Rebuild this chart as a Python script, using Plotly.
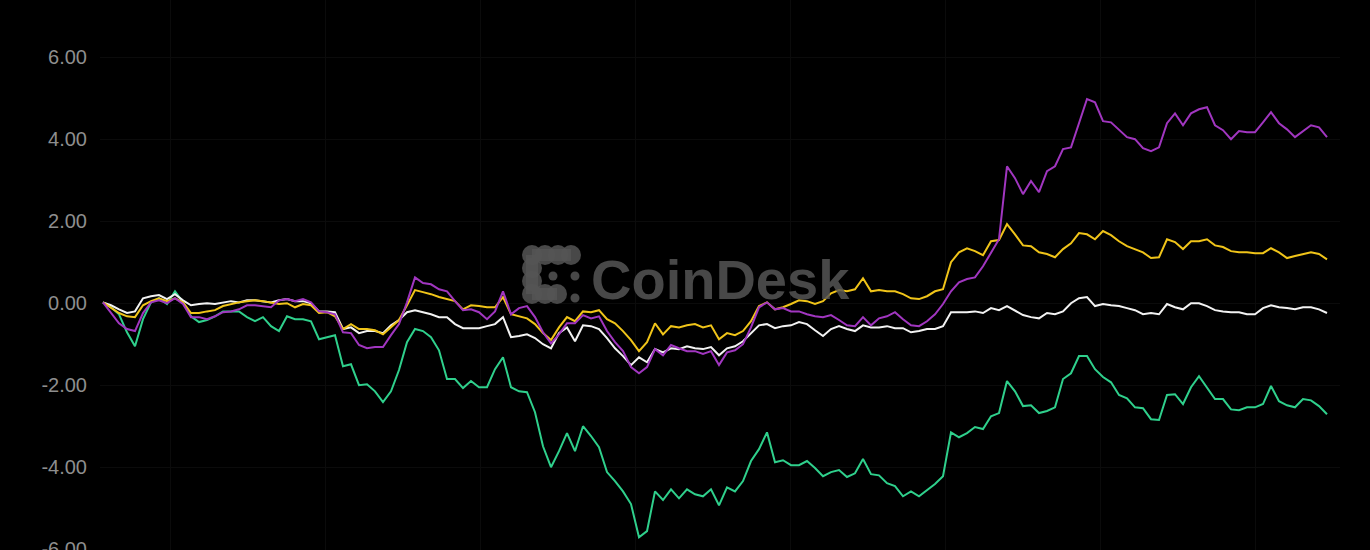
import plotly.graph_objects as go

# ---- data (cumulative % change, daily observations) ----
green = [0.02, -0.10, -0.27, -0.71, -1.05, -0.39, 0.02, 0.12, -0.02, 0.29,
         0.02, -0.32, -0.46, -0.41, -0.32, -0.20, -0.20, -0.20, -0.34, -0.44,
         -0.34, -0.56, -0.68, -0.32, -0.39, -0.39, -0.44, -0.88, -0.83, -0.78,
         -1.54, -1.49, -2.00, -1.98, -2.15, -2.41, -2.15, -1.63, -0.95, -0.63,
         -0.68, -0.83, -1.15, -1.85, -1.85, -2.07, -1.90, -2.05, -2.05, -1.61,
         -1.32, -2.05, -2.15, -2.17, -2.66, -3.49, -4.00, -3.61, -3.17, -3.61,
         -3.00, -3.24, -3.51, -4.12, -4.34, -4.59, -4.90, -5.71, -5.56, -4.59,
         -4.80, -4.54, -4.76, -4.54, -4.66, -4.71, -4.54, -4.93, -4.49, -4.59,
         -4.34, -3.85, -3.56, -3.15, -3.88, -3.83, -3.95, -3.95, -3.85, -4.02,
         -4.22, -4.12, -4.07, -4.24, -4.15, -3.80, -4.17, -4.20, -4.39, -4.46,
         -4.71, -4.59, -4.71, -4.56, -4.41, -4.22, -3.15, -3.27, -3.17, -3.02,
         -3.07, -2.76, -2.68, -1.90, -2.15, -2.51, -2.49, -2.68, -2.63, -2.54,
         -1.85, -1.71, -1.29, -1.29, -1.61, -1.80, -1.93, -2.24, -2.32, -2.54,
         -2.56, -2.83, -2.85, -2.24, -2.22, -2.46, -2.05, -1.78, -2.07, -2.34,
         -2.34, -2.59, -2.61, -2.54, -2.54, -2.46, -2.02, -2.39, -2.49, -2.54,
         -2.34, -2.37, -2.51, -2.71]

white = [0.02, -0.05, -0.15, -0.24, -0.20, 0.12, 0.17, 0.20, 0.10, 0.22,
         0.07, -0.05, -0.02, 0.00, -0.02, 0.02, 0.05, 0.02, 0.07, 0.07,
         0.05, 0.02, 0.07, 0.10, 0.05, 0.05, 0.00, -0.20, -0.20, -0.22,
         -0.63, -0.59, -0.73, -0.68, -0.68, -0.73, -0.54, -0.41, -0.22, -0.17,
         -0.22, -0.27, -0.34, -0.34, -0.51, -0.61, -0.61, -0.61, -0.56, -0.51,
         -0.34, -0.83, -0.80, -0.76, -0.85, -1.00, -1.10, -0.73, -0.59, -0.93,
         -0.54, -0.56, -0.63, -0.85, -1.10, -1.29, -1.51, -1.32, -1.44, -1.12,
         -1.20, -1.10, -1.12, -1.05, -1.10, -1.12, -1.07, -1.27, -1.10, -1.05,
         -0.93, -0.73, -0.54, -0.51, -0.61, -0.56, -0.54, -0.46, -0.51, -0.66,
         -0.80, -0.63, -0.56, -0.63, -0.68, -0.54, -0.59, -0.59, -0.56, -0.61,
         -0.61, -0.71, -0.68, -0.63, -0.63, -0.56, -0.22, -0.22, -0.22, -0.20,
         -0.24, -0.12, -0.17, -0.07, -0.17, -0.29, -0.34, -0.37, -0.24, -0.27,
         -0.20, 0.00, 0.12, 0.15, -0.07, -0.02, -0.05, -0.07, -0.12, -0.17,
         -0.27, -0.24, -0.27, -0.02, -0.10, -0.15, 0.00, 0.00, -0.07, -0.17,
         -0.20, -0.22, -0.22, -0.27, -0.27, -0.12, -0.05, -0.10, -0.12, -0.15,
         -0.10, -0.10, -0.15, -0.24]

yellow = [0.02, -0.12, -0.24, -0.32, -0.34, -0.05, 0.05, 0.12, 0.05, 0.12,
          0.02, -0.24, -0.24, -0.20, -0.17, -0.07, -0.02, 0.02, 0.05, 0.07,
          0.05, 0.02, -0.02, 0.00, -0.10, -0.02, -0.05, -0.24, -0.22, -0.32,
          -0.63, -0.51, -0.63, -0.63, -0.66, -0.76, -0.59, -0.41, -0.05, 0.32,
          0.27, 0.22, 0.15, 0.10, 0.05, -0.15, -0.05, -0.07, -0.10, -0.10,
          0.15, -0.27, -0.32, -0.37, -0.51, -0.73, -0.90, -0.59, -0.34, -0.44,
          -0.20, -0.22, -0.17, -0.39, -0.49, -0.68, -0.90, -1.17, -0.95, -0.49,
          -0.76, -0.56, -0.59, -0.54, -0.51, -0.59, -0.54, -0.88, -0.73, -0.78,
          -0.68, -0.44, -0.07, 0.02, -0.15, -0.10, -0.02, 0.07, 0.05, -0.02,
          0.05, 0.24, 0.32, 0.29, 0.34, 0.61, 0.29, 0.32, 0.29, 0.29,
          0.22, 0.12, 0.10, 0.17, 0.29, 0.34, 1.00, 1.24, 1.34, 1.27,
          1.17, 1.51, 1.54, 1.93, 1.68, 1.41, 1.39, 1.24, 1.20, 1.12,
          1.32, 1.46, 1.71, 1.68, 1.56, 1.76, 1.66, 1.51, 1.39, 1.32,
          1.24, 1.10, 1.12, 1.56, 1.49, 1.32, 1.51, 1.51, 1.56, 1.41,
          1.37, 1.27, 1.24, 1.24, 1.22, 1.22, 1.34, 1.24, 1.10, 1.15,
          1.20, 1.24, 1.20, 1.07]

purple = [0.02, -0.24, -0.49, -0.63, -0.68, -0.24, 0.02, 0.07, 0.00, 0.12,
          -0.02, -0.34, -0.34, -0.39, -0.32, -0.22, -0.20, -0.15, -0.05, -0.05,
          -0.07, -0.10, 0.07, 0.10, 0.05, 0.10, 0.02, -0.20, -0.22, -0.27,
          -0.71, -0.73, -1.02, -1.10, -1.07, -1.07, -0.78, -0.51, 0.02, 0.63,
          0.49, 0.46, 0.34, 0.29, 0.05, -0.17, -0.15, -0.22, -0.39, -0.20,
          0.29, -0.27, -0.12, -0.07, -0.34, -0.71, -0.98, -0.76, -0.49, -0.49,
          -0.29, -0.37, -0.32, -0.68, -0.95, -1.17, -1.56, -1.71, -1.56, -1.12,
          -1.27, -1.02, -1.10, -1.17, -1.17, -1.24, -1.17, -1.51, -1.20, -1.15,
          -1.00, -0.59, -0.10, 0.02, -0.15, -0.12, -0.20, -0.20, -0.27, -0.32,
          -0.34, -0.29, -0.41, -0.54, -0.56, -0.34, -0.54, -0.37, -0.32, -0.22,
          -0.39, -0.54, -0.56, -0.44, -0.27, -0.02, 0.29, 0.51, 0.59, 0.63,
          0.90, 1.22, 1.56, 3.34, 3.05, 2.66, 2.98, 2.71, 3.22, 3.34,
          3.76, 3.80, 4.41, 4.98, 4.90, 4.44, 4.41, 4.22, 4.05, 4.00,
          3.78, 3.71, 3.80, 4.39, 4.63, 4.34, 4.63, 4.73, 4.78, 4.34,
          4.22, 4.00, 4.20, 4.17, 4.17, 4.41, 4.66, 4.39, 4.24, 4.05,
          4.20, 4.34, 4.29, 4.05]

y_ticks = [-6, -4, -2, 0, 2, 4, 6]
y_tick_labels = ["-6.00", "-4.00", "-2.00", "0.00", "2.00", "4.00", "6.00"]

series = [
    ("green", green, "#2fd08c"),
    ("white", white, "#f2f2f2"),
    ("yellow", yellow, "#f0c419"),
    ("purple", purple, "#a136c0"),
]

fig = go.Figure()
for name, vals, color in series:
    fig.add_trace(go.Scatter(
        x=list(range(len(vals))), y=vals, mode="lines", name=name,
        line=dict(color=color, width=2), hoverinfo="skip"))

W, H = 1370, 550
ML, MR, MT, MB = 100, 30, 0, 0

def px(x):
    return (x - ML) / (W - ML - MR)

def py(y):
    return (H - MB - y) / (H - MT - MB)

# ---- CoinDesk watermark (decorative) ----
logo_col = "rgba(85,85,85,0.85)"
shapes = []
def blob(cx, cy, r):
    shapes.append(dict(type="circle", xref="paper", yref="paper",
                       x0=px(cx - r), x1=px(cx + r), y0=py(cy + r), y1=py(cy - r),
                       fillcolor=logo_col, line=dict(width=0), layer="above"))
def bar(x0, y0, x1, y1):
    shapes.append(dict(type="rect", xref="paper", yref="paper",
                       x0=px(x0), x1=px(x1), y0=py(y1), y1=py(y0),
                       fillcolor=logo_col, line=dict(width=0), layer="above"))

for cx in (532, 545, 558, 571):
    blob(cx, 255, 10)
for cy in (268, 281):
    blob(532, cy, 10)
for cx in (532, 545, 557):
    blob(cx, 294, 10)
bar(532, 249, 571, 261)
bar(526, 255, 538, 294)
bar(532, 288, 557, 300)
blob(553, 276, 4.5)
blob(575, 276, 4.5)
blob(575, 298, 4.5)

fig.update_layout(
    width=W, height=H,
    margin=dict(l=ML, r=MR, t=MT, b=MB),
    paper_bgcolor="#000000", plot_bgcolor="#000000",
    showlegend=False,
    shapes=shapes,
    annotations=[dict(text="<b>CoinDesk</b>", xref="paper", yref="paper",
                      x=px(720), y=py(279), xanchor="center", yanchor="middle",
                      showarrow=False,
                      font=dict(family="Liberation Sans, Arial, sans-serif",
                                size=56, color=logo_col))],
    xaxis=dict(range=[-0.375, 154.625], showticklabels=False, ticks="",
               showgrid=True, gridcolor="#0b0b0b", gridwidth=1,
               tick0=8.375, dtick=19.375, zeroline=False, showline=False,
               automargin=False, fixedrange=True),
    yaxis=dict(range=[-6.02, 7.395], tickvals=y_ticks, ticktext=y_tick_labels,
               showgrid=True, gridcolor="#0b0b0b", gridwidth=1,
               zeroline=False, showline=False, ticks="outside", ticklen=8,
               tickcolor="rgba(0,0,0,0)", automargin=False, fixedrange=True,
               ticklabeloverflow="allow",
               tickfont=dict(family="Liberation Sans, Arial, sans-serif",
                             size=20, color="#8e8e8e")),
)

fig.write_html("out.html", config={"displayModeBar": False},
               post_script="document.body.style.margin='0px';")
